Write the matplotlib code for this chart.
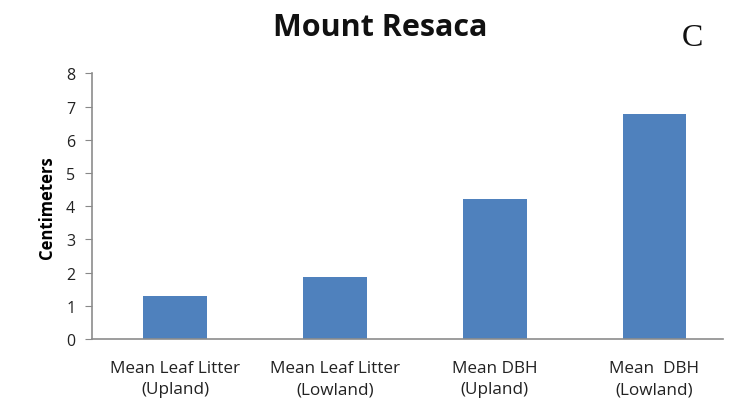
import matplotlib.pyplot as plt

categories = ["Mean Leaf Litter\n(Upland)", "Mean Leaf Litter\n(Lowland)",
              "Mean DBH\n(Upland)", "Mean  DBH\n(Lowland)"]
values = [1.31, 1.87, 4.22, 6.78]

fig = plt.figure(figsize=(7.41, 4.02), dpi=100)
ax = fig.add_axes([0.124, 0.154, 0.852, 0.661])

ax.bar(range(len(values)), values, width=0.4, color="#4F81BD")

ax.set_xlim(-0.52, 3.43)
ax.set_ylim(0, 8)
ax.set_yticks(range(0, 9))
ax.set_xticks(range(len(categories)))
ax.set_xticklabels(categories, fontsize=12.3, family="Open Sans", color="#222222",
                   linespacing=1.45)
ax.tick_params(axis="x", length=0, pad=15)
ax.tick_params(axis="y", length=5, color="#888888", labelsize=11.5, pad=7,
               labelcolor="#222222")
for lbl in ax.get_yticklabels():
    lbl.set_family("Open Sans")

for side in ["top", "right"]:
    ax.spines[side].set_visible(False)
for side in ["left", "bottom"]:
    ax.spines[side].set_color("#8c8c8c")
    ax.spines[side].set_linewidth(1.2)

ax.set_ylabel("Centimeters", fontsize=12, fontweight="bold", family="Open Sans",
              labelpad=7)

fig.text(0.513, 0.93, "Mount Resaca", ha="center", va="center", fontsize=22,
         fontweight="bold", family="Open Sans", color="#111111")
fig.text(0.935, 0.905, "C", ha="center", va="center", fontsize=23,
         family="Liberation Serif", color="#111111")

fig.savefig("out.png", dpi=100)
